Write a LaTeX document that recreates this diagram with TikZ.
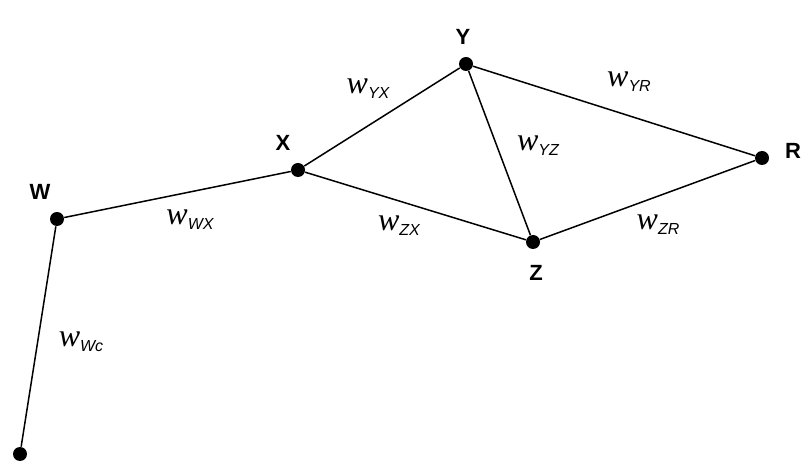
\documentclass[tikz,border=0pt]{standalone}
\usepackage{fontspec}
\setmainfont{Liberation Serif}
\setsansfont{Liberation Sans}
\tikzset{
  vtx/.style={circle,fill=black,inner sep=0pt,minimum size=7pt},
  uedge/.style={line width=0.75pt},
  vlab/.style={font=\sffamily\bfseries\fontsize{11}{13}\selectfont,inner sep=0pt},
  wlab/.style={inner sep=0pt}
}
\newcommand{\wlbl}[1]{{\fontsize{16}{16}\selectfont\itshape w}\raisebox{-2.5pt}{\fontsize{8}{9}\selectfont\sffamily\itshape #1}}

\begin{document}
\begin{tikzpicture}[x=0.5pt,y=-0.5pt]
\useasboundingbox (0,0) rectangle (808,464);
% vertices
\node[vtx] (W) at (57,219) {};
\node[vtx] (X) at (298,170) {};
\node[vtx] (Y) at (466,64) {};
\node[vtx] (Z) at (533,242) {};
\node[vtx] (R) at (762,158) {};
\node[vtx] (C) at (20,454) {};

% vertex labels
\node[vlab] (lW) at (40,192) {W};
\node[vlab] (lX) at (283,143) {X};
\node[vlab] (lY) at (463,37) {Y};
\node[vlab] (lZ) at (536,273) {Z};
\node[vlab] (lR) at (793,151) {R};

% edges
\draw[uedge] (W) -- (X);
\draw[uedge] (X) -- (Y);
\draw[uedge] (X) -- (Z);
\draw[uedge] (Y) -- (Z);
\draw[uedge] (Y) -- (R);
\draw[uedge] (Z) -- (R);
\draw[uedge] (W) -- (C);

% weights
\node[wlab] (wYX) at (368,89) {\wlbl{YX}};
\node[wlab] (wYR) at (629,82) {\wlbl{YR}};
\node[wlab] (wYZ) at (538,146) {\wlbl{YZ}};
\node[wlab] (wWX) at (190,220) {\wlbl{WX}};
\node[wlab] (wZX) at (399,226) {\wlbl{ZX}};
\node[wlab] (wZR) at (658,225) {\wlbl{ZR}};
\node[wlab] (wWc) at (81,342) {\wlbl{Wc}};
\end{tikzpicture}
\end{document}
